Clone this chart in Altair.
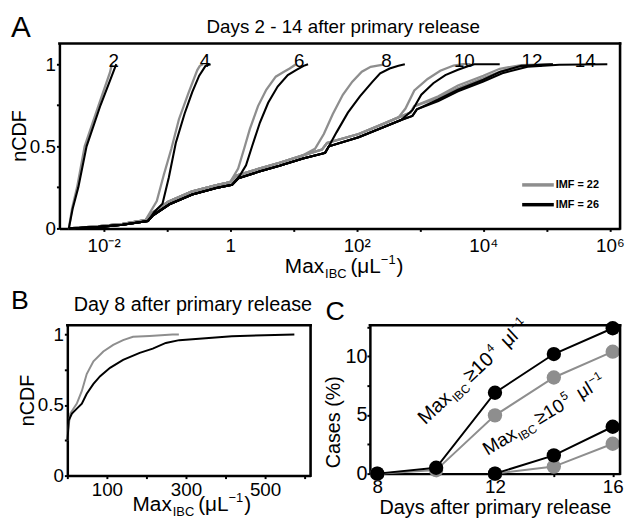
import altair as alt
import pandas as pd

FONT = "Liberation Sans"
GRAY = "#8e8e8e"
BLACK = "#000000"

# ---------------- Panel A : log10(Max_IBC) and nCDF ----------------
LOW_22_LX = [-2.55, -2.1, -1.7, -1.34]
LOW_22_Y = [0.0, 0.012, 0.028, 0.05]
LOW_26_LX = [-2.55, -2.1, -1.7, -1.30]
LOW_26_Y = [0.0, 0.008, 0.022, 0.045]
MID_22_LX = [-1.24, -0.98, -0.61, -0.23, 0.0]
MID_22_Y = [0.092, 0.163, 0.224, 0.262, 0.282]
MID_26_LX = [-1.22, -0.96, -0.60, -0.22, 0.03]
MID_26_Y = [0.08, 0.147, 0.206, 0.246, 0.266]
UP_22_LX = [0.10, 0.46, 0.78, 1.15]
UP_22_Y = [0.322, 0.364, 0.40, 0.445]
UP_26_LX = [0.13, 0.46, 0.78, 1.15]
UP_26_Y = [0.306, 0.346, 0.381, 0.426]
HI_22_LX = [1.45, 1.53, 2.03, 2.41, 2.66]
HI_22_Y = [0.48, 0.52, 0.575, 0.635, 0.676]
HI_26_LX = [1.50, 1.56, 2.03, 2.41, 2.70]
HI_26_Y = [0.46, 0.50, 0.555, 0.615, 0.66]
TOP_22_LX = [2.85, 2.91]
TOP_22_Y = [0.705, 0.745]
TOP_26_LX = [2.88, 2.95]
TOP_26_Y = [0.685, 0.725]

D2_22_LX = [-2.55, -2.50, -2.42, -2.30, -2.08, -1.90, -1.87]
D2_22_Y = [0.0, 0.12, 0.25, 0.50, 0.75, 0.95, 1.0]
D2_26_LX = [-2.55, -2.49, -2.40, -2.27, -2.05, -1.85, -1.80]
D2_26_Y = [0.0, 0.12, 0.25, 0.50, 0.75, 0.95, 1.0]
D4_22_LX = [-1.16, -1.05, -0.93, -0.81, -0.66, -0.52, -0.48, -0.43]
D4_22_Y = [0.166, 0.325, 0.485, 0.665, 0.824, 0.964, 0.99, 1.0]
D4_26_LX = [-1.20, -1.07, -0.97, -0.86, -0.72, -0.60, -0.49, -0.39, -0.31]
D4_26_Y = [0.10, 0.15, 0.31, 0.52, 0.70, 0.83, 0.93, 0.99, 1.0]
D6_22_LX = [0.126, 0.22, 0.31, 0.44, 0.57, 0.72, 0.85, 0.94, 1.04]
D6_22_Y = [0.365, 0.485, 0.605, 0.745, 0.844, 0.924, 0.954, 0.974, 1.0]
D6_26_LX = [0.157, 0.25, 0.35, 0.47, 0.60, 0.75, 0.91, 1.04, 1.16, 1.23]
D6_26_Y = [0.325, 0.385, 0.505, 0.645, 0.765, 0.864, 0.934, 0.964, 0.99, 1.0]
D8_22_LX = [1.34, 1.48, 1.62, 1.78, 1.93, 2.08, 2.22, 2.42]
D8_22_Y = [0.485, 0.575, 0.695, 0.814, 0.894, 0.954, 0.984, 0.998]
D8_26_LX = [1.50, 1.56, 1.68, 1.86, 2.05, 2.25, 2.37, 2.52, 2.66, 2.76]
D8_26_Y = [0.46, 0.50, 0.585, 0.705, 0.804, 0.894, 0.944, 0.974, 0.99, 1.0]
D10_22_LX = [2.77, 2.91, 3.12, 3.32, 3.53, 3.68, 3.80]
D10_22_Y = [0.73, 0.84, 0.91, 0.96, 0.992, 1.0, 1.0]
D10_26_LX = [2.88, 3.02, 3.21, 3.40, 3.60, 3.80, 3.86, 4.26]
D10_26_Y = [0.72, 0.814, 0.884, 0.934, 0.966, 0.994, 1.0, 1.0]
D12_22_LX = [3.29, 3.60, 4.00, 4.26, 4.60, 5.07]
D12_22_Y = [0.805, 0.87, 0.93, 0.972, 0.995, 1.0]
D12_26_LX = [3.29, 3.60, 4.00, 4.26, 4.60, 5.10]
D12_26_Y = [0.785, 0.845, 0.905, 0.952, 0.99, 1.0]
D14_22_LX = [3.29, 3.60, 4.00, 4.30, 4.70, 5.10]
D14_22_Y = [0.795, 0.855, 0.915, 0.96, 0.99, 1.0]
D14_26_LX = [3.29, 3.60, 4.00, 4.30, 4.70, 5.20, 5.96]
D14_26_Y = [0.775, 0.835, 0.895, 0.945, 0.985, 0.997, 1.0]

DAY_LABELS = ["2", "4", "6", "8", "10", "12", "14"]
DAY_LABEL_LX = [-1.84, -0.40, 1.09, 2.47, 3.70, 4.77, 5.61]
LEGEND_LABELS = ["IMF = 22", "IMF = 26"]

# axis ranges (plot box edges)
A_X_RANGE = [0.002, 1.45e6]
A_Y_RANGE = [0, 1.126]
B_X_RANGE = [0, 615]
B_Y_RANGE = [0, 1.065]
C_X_RANGE = [7.75, 16.25]
C_Y_RANGE = [0, 12.65]

# ---------------- Panel B : day 8, linear Max_IBC ----------------
B_GRAY_X = [0.5, 1.7, 7.5, 24, 36.7, 49, 66, 91, 116, 141, 166, 208, 266, 282]
B_GRAY_Y = [0.25, 0.32, 0.44, 0.51, 0.60, 0.72, 0.81, 0.88, 0.926, 0.96, 0.984, 0.99, 1.0, 1.0]
B_BLACK_X = [0.5, 1.7, 3.3, 11.7, 24, 36.7, 49, 66, 83, 108, 141, 183, 216, 249, 283, 333, 416, 499, 574]
B_BLACK_Y = [0.25, 0.30, 0.39, 0.44, 0.475, 0.51, 0.58, 0.65, 0.705, 0.764, 0.82, 0.87, 0.90,
             0.94, 0.96, 0.97, 0.988, 0.995, 1.0]

# ---------------- Panel C : cases (%) ----------------
C_DAYS_E4 = [8, 10, 12, 14, 16]
C_E4_IMF26 = [0.0, 0.5, 6.9, 10.2, 12.4]
C_E4_IMF22 = [0.0, 0.3, 4.97, 8.2, 10.4]
C_DAYS_E5 = [12, 14, 16]
C_E5_IMF26 = [0.0, 1.56, 4.0]
C_E5_IMF22 = [0.0, 0.6, 2.55]


def cat(*parts):
    out = []
    for p in parts:
        out += p
    return out

curves = [
    ("2", "22", D2_22_LX, D2_22_Y),
    ("2", "26", D2_26_LX, D2_26_Y),
    ("4", "22", cat(LOW_22_LX, D4_22_LX), cat(LOW_22_Y, D4_22_Y)),
    ("4", "26", cat(LOW_26_LX, D4_26_LX), cat(LOW_26_Y, D4_26_Y)),
    ("6", "22", cat(LOW_22_LX, MID_22_LX, D6_22_LX), cat(LOW_22_Y, MID_22_Y, D6_22_Y)),
    ("6", "26", cat(LOW_26_LX, MID_26_LX, D6_26_LX), cat(LOW_26_Y, MID_26_Y, D6_26_Y)),
    ("8", "22", cat(LOW_22_LX, MID_22_LX, UP_22_LX, D8_22_LX), cat(LOW_22_Y, MID_22_Y, UP_22_Y, D8_22_Y)),
    ("8", "26", cat(LOW_26_LX, MID_26_LX, UP_26_LX, D8_26_LX), cat(LOW_26_Y, MID_26_Y, UP_26_Y, D8_26_Y)),
    ("10", "22", cat(LOW_22_LX, MID_22_LX, UP_22_LX, HI_22_LX, D10_22_LX),
     cat(LOW_22_Y, MID_22_Y, UP_22_Y, HI_22_Y, D10_22_Y)),
    ("10", "26", cat(LOW_26_LX, MID_26_LX, UP_26_LX, HI_26_LX, D10_26_LX),
     cat(LOW_26_Y, MID_26_Y, UP_26_Y, HI_26_Y, D10_26_Y)),
    ("12", "22", cat(LOW_22_LX, MID_22_LX, UP_22_LX, HI_22_LX, TOP_22_LX, D12_22_LX),
     cat(LOW_22_Y, MID_22_Y, UP_22_Y, HI_22_Y, TOP_22_Y, D12_22_Y)),
    ("12", "26", cat(LOW_26_LX, MID_26_LX, UP_26_LX, HI_26_LX, TOP_26_LX, D12_26_LX),
     cat(LOW_26_Y, MID_26_Y, UP_26_Y, HI_26_Y, TOP_26_Y, D12_26_Y)),
    ("14", "22", cat(LOW_22_LX, MID_22_LX, UP_22_LX, HI_22_LX, TOP_22_LX, D14_22_LX),
     cat(LOW_22_Y, MID_22_Y, UP_22_Y, HI_22_Y, TOP_22_Y, D14_22_Y)),
    ("14", "26", cat(LOW_26_LX, MID_26_LX, UP_26_LX, HI_26_LX, TOP_26_LX, D14_26_LX),
     cat(LOW_26_Y, MID_26_Y, UP_26_Y, HI_26_Y, TOP_26_Y, D14_26_Y)),
]
rows = []
for day, imf, lxs, ys in curves:
    for i, (lx, y) in enumerate(zip(lxs, ys)):
        rows.append({"curve": day + "_" + imf, "imf": imf, "x": 10 ** lx, "y": y, "i": i})
dfA = pd.DataFrame(rows)
dfLab = pd.DataFrame({"t": DAY_LABELS, "x": [10 ** v for v in DAY_LABEL_LX], "y": [0.98] * len(DAY_LABELS)})

dfB = pd.DataFrame(
    [{"imf": "22", "x": x, "y": y, "i": i} for i, (x, y) in enumerate(zip(B_GRAY_X, B_GRAY_Y))]
    + [{"imf": "26", "x": x, "y": y, "i": i} for i, (x, y) in enumerate(zip(B_BLACK_X, B_BLACK_Y))]
)

crow = []
for d, v in zip(C_DAYS_E4, C_E4_IMF22):
    crow.append({"s": "e4_22", "imf": "22", "x": d, "y": v})
for d, v in zip(C_DAYS_E4, C_E4_IMF26):
    crow.append({"s": "e4_26", "imf": "26", "x": d, "y": v})
for d, v in zip(C_DAYS_E5, C_E5_IMF22):
    crow.append({"s": "e5_22", "imf": "22", "x": d, "y": v})
for d, v in zip(C_DAYS_E5, C_E5_IMF26):
    crow.append({"s": "e5_26", "imf": "26", "x": d, "y": v})
dfC = pd.DataFrame(crow)

ONE = pd.DataFrame({"k": [0]})


def txt(t, x, y, size, align="left", baseline="alphabetic", angle=0, dx=0, dy=0, weight="normal", color=BLACK):
    kw = dict(text=t, font=FONT, fontSize=size, align=align, baseline=baseline, dx=dx, dy=dy,
              fontWeight=weight, color=color)
    if angle:
        kw["angle"] = angle
    return alt.Chart(ONE).mark_text(**kw).encode(x=alt.value(x), y=alt.value(y))


def frame(X, Y, xs, ys):
    """Top and right edges of the plot box, drawn in data coordinates through the panel scales."""
    edges = pd.DataFrame({
        "x": [xs[0], xs[1]], "x1": [xs[1], xs[1]],
        "y": [ys[1], ys[0]], "y1": [ys[1], ys[1]],
    })
    return alt.Chart(edges).mark_rule(color=BLACK, strokeWidth=2.6, strokeCap="square").encode(
        x=X, x2="x1:Q", y=Y, y2="y1:Q")


def maxibc(x, y, size, angle=0, tail="(μL", sup="−1", gte=None):
    small = round(size * 0.62)
    w = size * 1.889
    layers = [txt("Max", x, y, size, angle=angle)]
    layers.append(txt("IBC", x, y, small, angle=angle, dx=w + 1, dy=size * 0.25))
    pos = w + 1 + small * 1.667 + 4
    if gte is not None:
        layers.append(txt("≥10", x, y, size, angle=angle, dx=pos))
        pos += size * 1.7
        layers.append(txt(gte, x, y, small, angle=angle, dx=pos + 1, dy=-size * 0.42))
        pos += small * 0.6 + 10
        layers.append(txt("μl", x, y, size, angle=angle, dx=pos))
        pos += size * 0.85
        layers.append(txt("−1", x, y, small, angle=angle, dx=pos, dy=-size * 0.42))
    else:
        layers.append(txt(tail, x, y, size, angle=angle, dx=pos))
        pos += size * 1.465
        layers.append(txt(sup, x, y, small, angle=angle, dx=pos, dy=-size * 0.42))
        pos += small * 1.14 + 1
        layers.append(txt(")", x, y, size, angle=angle, dx=pos))
    return layers


# ---------------- Panel A chart ----------------
WA, HA = 567, 187
xA = alt.X("x:Q", scale=alt.Scale(type="log", domain=A_X_RANGE, nice=False),
           axis=alt.Axis(values=[10.0 ** e for e in range(-2, 7)], title=None, labelFontSize=19,
                         labelPadding=5,
                         labelExpr="round(log(datum.value)/LN10) == -2 ? '10⁻²' : "
                                   "round(log(datum.value)/LN10) == 0 ? '1' : "
                                   "round(log(datum.value)/LN10) == 2 ? '10²' : "
                                   "round(log(datum.value)/LN10) == 4 ? '10⁴' : "
                                   "round(log(datum.value)/LN10) == 6 ? '10⁶' : ''"))
yA = alt.Y("y:Q", scale=alt.Scale(domain=A_Y_RANGE, nice=False),
           axis=alt.Axis(values=[0, 0.25, 0.5, 0.75, 1], title=None, labelFontSize=19, labelPadding=1,
                         labelExpr="datum.value == 0 ? '0' : datum.value == 0.5 ? '0.5' : datum.value == 1 ? '1' : ''"))

grayA = alt.Chart(dfA[dfA.imf == "22"]).mark_line(color=GRAY, strokeWidth=2.3).encode(
    x=xA, y=yA, detail="curve:N", order="i:Q")
blackA = alt.Chart(dfA[dfA.imf == "26"]).mark_line(color=BLACK, strokeWidth=2.1).encode(
    x=xA, y=yA, detail="curve:N", order="i:Q")
labA = alt.Chart(dfLab).mark_text(font=FONT, fontSize=19, baseline="alphabetic", align="center").encode(
    x=xA, y=yA, text="t:N")

legA = [
    alt.Chart(ONE).mark_rule(color=GRAY, strokeWidth=3.5).encode(x=alt.value(468), x2=alt.value(500), y=alt.value(143)),
    txt(LEGEND_LABELS[0], 502, 143, 11, baseline="middle", weight="bold"),
    alt.Chart(ONE).mark_rule(color=BLACK, strokeWidth=3.5).encode(x=alt.value(468), x2=alt.value(500), y=alt.value(163)),
    txt(LEGEND_LABELS[1], 502, 163, 11, baseline="middle", weight="bold"),
]

chartA = alt.layer(
    grayA, blackA, labA, *legA, frame(xA, yA, A_X_RANGE, A_Y_RANGE),
    txt("A", -49, -7, 30),
    txt("Days 2 - 14 after primary release", 287, -11, 19, align="center"),
    txt("nCDF", -40, HA / 2, 20, align="center", baseline="middle", angle=270),
    *maxibc(228, HA + 45, 21),
).properties(width=WA, height=HA)

# ---------------- Panel B chart ----------------
WB, HB = 246, 152
xB = alt.X("x:Q", scale=alt.Scale(domain=B_X_RANGE, nice=False),
           axis=alt.Axis(values=[0, 100, 200, 300, 400, 500, 600], title=None, labelFontSize=19, labelPadding=2,
                         labelExpr="(datum.value == 100 || datum.value == 300 || datum.value == 500) ? datum.label : ''"))
yB = alt.Y("y:Q", scale=alt.Scale(domain=B_Y_RANGE, nice=False),
           axis=alt.Axis(values=[0, 0.25, 0.5, 0.75, 1], title=None, labelFontSize=19, labelPadding=1,
                         labelExpr="datum.value == 0 ? '0' : datum.value == 0.5 ? '0.5' : datum.value == 1 ? '1' : ''"))
grayB = alt.Chart(dfB[dfB.imf == "22"]).mark_line(color=GRAY, strokeWidth=2).encode(x=xB, y=yB, order="i:Q")
blackB = alt.Chart(dfB[dfB.imf == "26"]).mark_line(color=BLACK, strokeWidth=2).encode(x=xB, y=yB, order="i:Q")
chartB = alt.layer(
    grayB, blackB, frame(xB, yB, B_X_RANGE, B_Y_RANGE),
    txt("B", -57, -17, 27),
    txt("Day 8 after primary release", 127, -14, 20, align="center"),
    txt("nCDF", -40, HB / 2, 20, align="center", baseline="middle", angle=270),
    *maxibc(66, HB + 36, 21),
).properties(width=WB, height=HB)

# ---------------- Panel C chart ----------------
WC, HC = 253, 150
xC = alt.X("x:Q", scale=alt.Scale(domain=C_X_RANGE, nice=False),
           axis=alt.Axis(values=[8, 10, 12, 14, 16], title=None, labelFontSize=19, labelPadding=1,
                         labelExpr="(datum.value == 8 || datum.value == 12 || datum.value == 16) ? datum.label : ''"))
yC = alt.Y("y:Q", scale=alt.Scale(domain=C_Y_RANGE, nice=False),
           axis=alt.Axis(values=[0, 2.5, 5, 7.5, 10, 12.5], title=None, labelFontSize=20, labelPadding=0,
                         labelExpr="(datum.value == 0 || datum.value == 5 || datum.value == 10) ? datum.label : ''"))
cGray = dfC[dfC.imf == "22"]
cBlack = dfC[dfC.imf == "26"]
chartC = alt.layer(
    alt.Chart(cGray).mark_line(color=GRAY, strokeWidth=2).encode(x=xC, y=yC, detail="s:N"),
    alt.Chart(cGray).mark_circle(color=GRAY, size=210, opacity=1).encode(x=xC, y=yC),
    alt.Chart(cBlack).mark_line(color=BLACK, strokeWidth=2).encode(x=xC, y=yC, detail="s:N"),
    alt.Chart(cBlack).mark_circle(color=BLACK, size=210, opacity=1).encode(x=xC, y=yC),
    frame(xC, yC, C_X_RANGE, C_Y_RANGE),
    txt("C", -45, -5, 27),
    txt("Cases (%)", -36, 98, 20, align="center", baseline="middle", angle=270),
    txt("Days after primary release", 127, 191, 20, align="center"),
    *maxibc(56, 101, 20, angle=317, gte="4"),
    *maxibc(119, 132, 19, angle=329, gte="5"),
).properties(width=WC, height=HC)

spacer = alt.Chart(ONE).mark_point(opacity=0).encode(x=alt.value(0), y=alt.value(0)).properties(width=1, height=1)
row2 = alt.hconcat(spacer, alt.hconcat(chartB, chartC, spacing=60, bounds="flush"), spacing=7, bounds="flush")
chart = alt.vconcat(chartA, row2, spacing=5).properties(
    padding={"left": 2, "top": 2, "right": 0, "bottom": 0}
).configure_view(strokeWidth=0).configure_axis(
    domainColor=BLACK, domainWidth=2.5, tickColor=BLACK, tickWidth=2, tickSize=3,
    labelColor=BLACK, labelFont=FONT, grid=False
).configure_text(font=FONT)

chart.save("out.html", embed_options={"renderer": "svg", "actions": False})
